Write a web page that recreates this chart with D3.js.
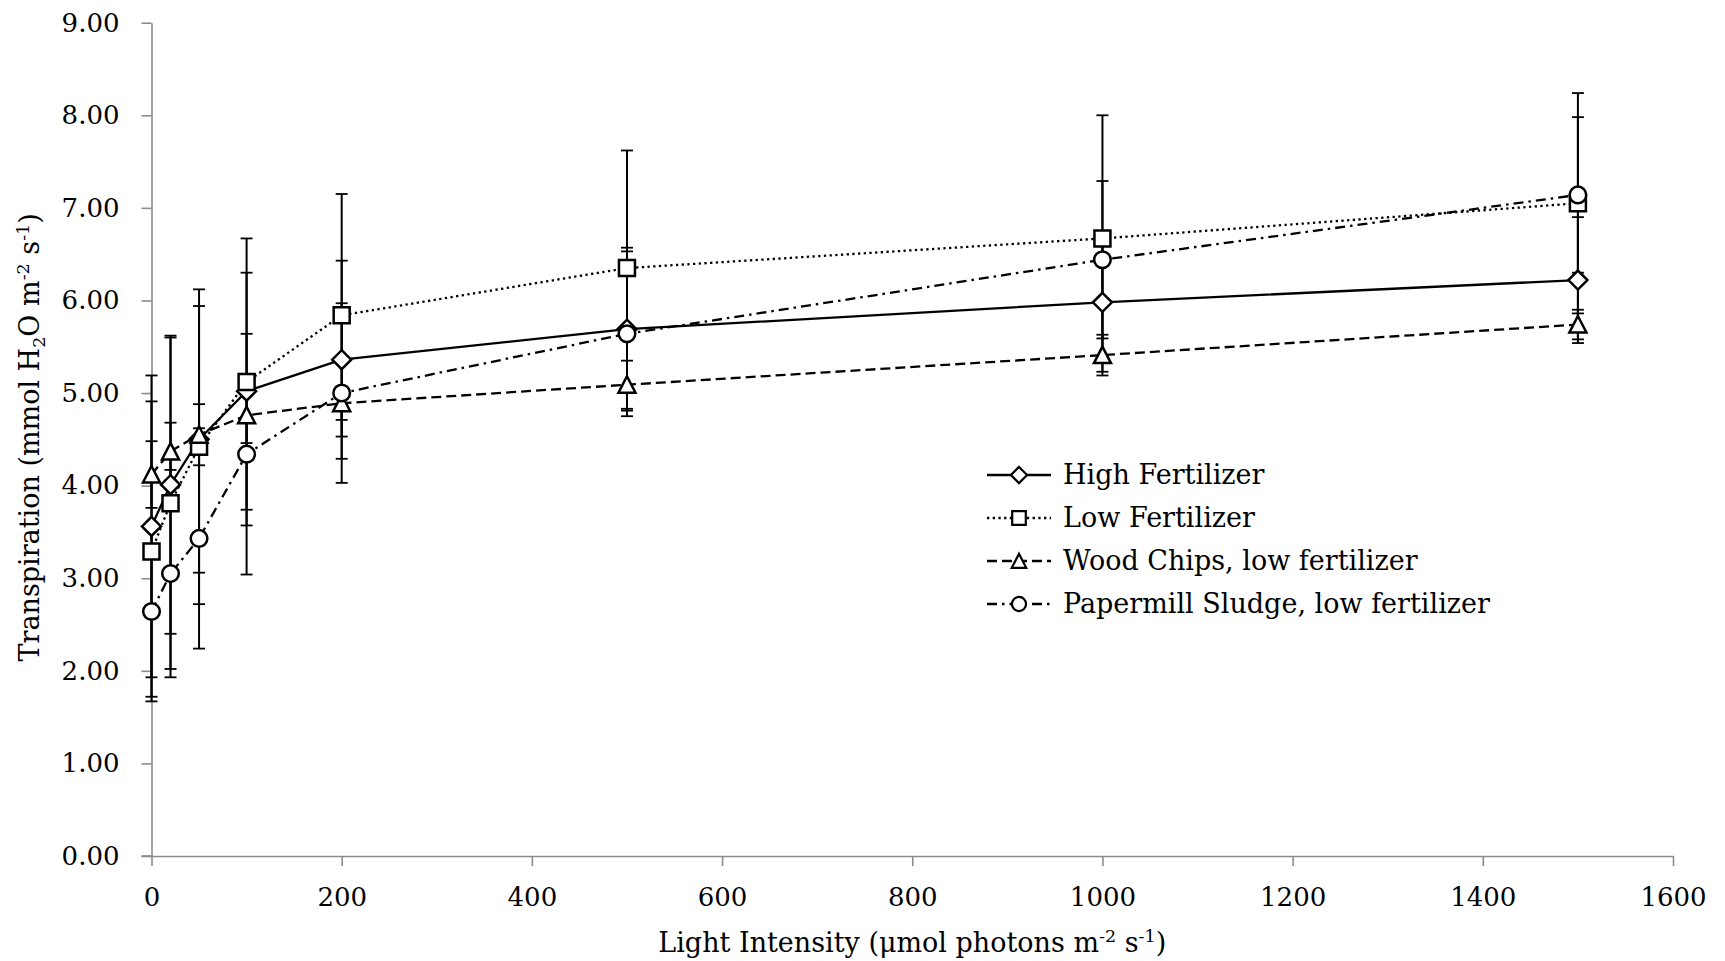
<!DOCTYPE html>
<html>
<head>
<meta charset="utf-8">
<script src="https://cdn.jsdelivr.net/npm/d3@7"></script>
<style>
  html, body { margin: 0; padding: 0; background: #fff; }
  svg { display: block; font-family: "DejaVu Serif", "Liberation Serif", serif; }
</style>
</head>
<body>
<svg id="chart" width="1725" height="961"></svg>
<script>
// Light levels (µmol photons m-2 s-1)
const lightLevels = [0, 20, 50, 100, 200, 500, 1000, 1500];

// Mean transpiration and error per treatment
const highFertilizer    = [3.56, 4.01, 4.50, 5.02, 5.36, 5.69, 5.98, 6.22];
const highFertilizerErr = [1.63, 1.61, 1.44, 1.28, 1.07, 0.88, 0.75, 0.68];

const lowFertilizer     = [3.29, 3.81, 4.42, 5.12, 5.84, 6.35, 6.67, 7.05];
const lowFertilizerErr  = [1.62, 1.79, 1.70, 1.55, 1.31, 1.27, 1.33, 1.19];

const woodChips         = [4.12, 4.37, 4.55, 4.76, 4.89, 5.09, 5.41, 5.74];
const woodChipsErr      = [0.36, 0.31, 0.33, 0.30, 0.18, 0.26, 0.22, 0.16];

const papermillSludge    = [2.64, 3.05, 3.43, 4.34, 5.00, 5.64, 6.44, 7.14];
const papermillSludgeErr = [0.92, 1.12, 1.19, 1.30, 0.97, 0.89, 0.85, 0.84];

const seriesNames = ["High Fertilizer", "Low Fertilizer", "Wood Chips, low fertilizer", "Papermill Sludge, low fertilizer"];

const xTicks = [0, 200, 400, 600, 800, 1000, 1200, 1400, 1600];
const yTicks = [0, 1, 2, 3, 4, 5, 6, 7, 8, 9];

// Drawing styles per series
const series = [
  { name: seriesNames[0], values: highFertilizer,  errors: highFertilizerErr,  dash: null,            marker: "diamond" },
  { name: seriesNames[1], values: lowFertilizer,   errors: lowFertilizerErr,   dash: "2.3 3.4",       marker: "square" },
  { name: seriesNames[2], values: woodChips,       errors: woodChipsErr,       dash: "10 5",          marker: "triangle" },
  { name: seriesNames[3], values: papermillSludge, errors: papermillSludgeErr, dash: "10 5 2.5 5",    marker: "circle" }
];

const svg = d3.select("#chart");
const axisColor = "#8c8c8c";
const fontSize = 26;
const titleSize = 27;

const x = d3.scaleLinear().domain([0, 1600]).range([151.5, 1673]);
const y = d3.scaleLinear().domain([0, 9]).range([856, 22.7]);

// Y axis
const yAxis = svg.append("g")
  .attr("transform", `translate(${x(0)},0)`)
  .call(d3.axisLeft(y).tickValues(yTicks).tickFormat(d3.format(".2f")).tickSize(10).tickSizeOuter(0).tickPadding(22));
// X axis
const xAxis = svg.append("g")
  .attr("transform", `translate(0,${y(0)})`)
  .call(d3.axisBottom(x).tickValues(xTicks).tickFormat(d3.format("d")).tickSize(10).tickSizeOuter(0).tickPadding(22));

[yAxis, xAxis].forEach(g => {
  g.select(".domain").attr("stroke", axisColor).attr("stroke-width", 1.6);
  g.selectAll(".tick line").attr("stroke", axisColor).attr("stroke-width", 1.6);
  g.selectAll(".tick text").attr("fill", "#000").attr("font-size", fontSize)
    .attr("font-family", "DejaVu Serif, Liberation Serif, serif");
});
// extend x-axis domain leftwards to meet the 0.00 tick
xAxis.append("line").attr("x1", x(0) - 10).attr("x2", x(0)).attr("y1", 0).attr("y2", 0)
  .attr("stroke", axisColor).attr("stroke-width", 1.6);

// Axis titles
const yTitle = svg.append("text")
  .attr("transform", `translate(39,${(y(9) + y(0)) / 2 - 2}) rotate(-90)`)
  .attr("text-anchor", "middle")
  .attr("font-size", titleSize)
  .attr("fill", "#000");
yTitle.append("tspan").text("Transpiration (mmol H");
yTitle.append("tspan").attr("font-size", titleSize * 0.65).attr("dy", 6).text("2");
yTitle.append("tspan").attr("dy", -6).text("O m");
yTitle.append("tspan").attr("font-size", titleSize * 0.65).attr("dy", -10).text("-2");
yTitle.append("tspan").attr("dy", 10).text(" s");
yTitle.append("tspan").attr("font-size", titleSize * 0.65).attr("dy", -10).text("-1");
yTitle.append("tspan").attr("dy", 10).text(")");

const xTitle = svg.append("text")
  .attr("x", (x(0) + x(1600)) / 2)
  .attr("y", 952)
  .attr("text-anchor", "middle")
  .attr("font-size", titleSize)
  .attr("fill", "#000");
xTitle.append("tspan").text("Light Intensity (μmol photons m");
xTitle.append("tspan").attr("font-size", titleSize * 0.65).attr("dy", -10).text("-2");
xTitle.append("tspan").attr("dy", 10).text(" s");
xTitle.append("tspan").attr("font-size", titleSize * 0.65).attr("dy", -10).text("-1");
xTitle.append("tspan").attr("dy", 10).text(")");

// Marker shapes
function markerPath(type) {
  switch (type) {
    case "diamond":  return "M0,-9.5L9.5,0L0,9.5L-9.5,0Z";
    case "square":   return "M-8,-8H8V8H-8Z";
    case "triangle": return "M0,-8.5L8.5,8L-8.5,8Z";
    case "circle":   return d3.arc()({ innerRadius: 0, outerRadius: 8.3, startAngle: 0, endAngle: 2 * Math.PI });
  }
}

const line = d3.line().x(d => x(d.x)).y(d => y(d.v));
const pts = s => lightLevels.map((lx, i) => ({ x: lx, v: s.values[i], e: s.errors[i] }));

// Series lines
svg.append("g").selectAll("path")
  .data(series)
  .join("path")
  .attr("d", s => line(pts(s)))
  .attr("fill", "none")
  .attr("stroke", "#000")
  .attr("stroke-width", 2.3)
  .attr("stroke-dasharray", s => s.dash);

// Error bars
const capHalf = 6;
const eb = svg.append("g");
series.forEach(s => {
  const g = eb.append("g");
  pts(s).forEach(p => {
    g.append("line").attr("x1", x(p.x)).attr("x2", x(p.x))
      .attr("y1", y(p.v + p.e)).attr("y2", y(p.v - p.e))
      .attr("stroke", "#000").attr("stroke-width", 2);
    [p.v + p.e, p.v - p.e].forEach(c => {
      g.append("line").attr("x1", x(p.x) - capHalf).attr("x2", x(p.x) + capHalf)
        .attr("y1", y(c)).attr("y2", y(c))
        .attr("stroke", "#000").attr("stroke-width", 1.8);
    });
  });
});

// Markers
const mk = svg.append("g");
series.forEach(s => {
  mk.append("g").selectAll("path")
    .data(pts(s))
    .join("path")
    .attr("transform", p => `translate(${x(p.x)},${y(p.v)})`)
    .attr("d", markerPath(s.marker))
    .attr("fill", "#fff")
    .attr("stroke", "#000")
    .attr("stroke-width", 2.5);
});

// Legend
const legend = svg.append("g").attr("transform", "translate(987,475)");
series.forEach((s, i) => {
  const row = legend.append("g").attr("transform", `translate(0,${i * 43})`);
  row.append("line").attr("x1", 0).attr("x2", 64).attr("y1", 0).attr("y2", 0)
    .attr("stroke", "#000").attr("stroke-width", 2.3)
    .attr("stroke-dasharray", s.dash);
  row.append("path").attr("transform", "translate(32,0) scale(0.85)")
    .attr("d", markerPath(s.marker))
    .attr("fill", "#fff").attr("stroke", "#000").attr("stroke-width", 2.6);
  row.append("text").attr("x", 76).attr("y", 0).attr("dy", "0.35em")
    .attr("font-size", titleSize).attr("fill", "#000").text(s.name);
});
</script>
</body>
</html>
